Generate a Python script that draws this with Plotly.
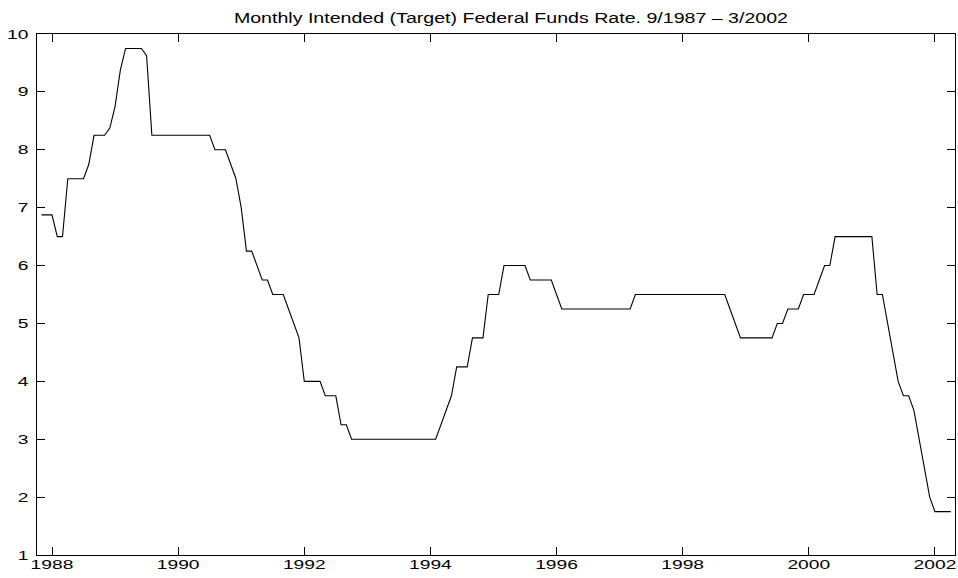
import plotly.graph_objects as go

# Monthly intended (target) federal funds rate
rate = (
    [6.875] * 3 + [6.5] * 2 + [7.5] * 4 + [7.75] + [8.25] * 3 + [8.375, 8.75, 9.375]
    + [9.75] * 4 + [9.625] + [8.25] * 12 + [8.0] * 3 + [7.75, 7.5, 7.0]
    + [6.25] * 2 + [6.0] + [5.75] * 2 + [5.5] * 3 + [5.25, 5.0, 4.75]
    + [4.0] * 4 + [3.75] * 3 + [3.25] * 2 + [3.0] * 17 + [3.25, 3.5, 3.75]
    + [4.25] * 3 + [4.75] * 3 + [5.5] * 3 + [6.0] * 5 + [5.75] * 5 + [5.5]
    + [5.25] * 14 + [5.5] * 18 + [5.25, 5.0] + [4.75] * 7 + [5.0] * 2
    + [5.25] * 3 + [5.5] * 3 + [5.75] + [6.0] * 2 + [6.5] * 8 + [5.5] * 2
    + [5.0, 4.5, 4.0] + [3.75] * 2 + [3.5, 3.0, 2.5, 2.0] + [1.75] * 4
)
x_start = 1987 + 10 / 12          # decimal-year position of the first monthly sample
dates = [x_start + i / 12 for i in range(len(rate))]

x_ticks = [1988, 1990, 1992, 1994, 1996, 1998, 2000, 2002]
y_ticks = [1, 2, 3, 4, 5, 6, 7, 8, 9, 10]
title = "Monthly Intended (Target) Federal Funds Rate. 9/1987 \u2013 3/2002"

fig = go.Figure(go.Scatter(
    x=dates, y=rate, mode="lines",
    line=dict(color="black", width=1.1),
    hoverinfo="x+y",
))

family = "Liberation Sans, Arial, Helvetica, sans-serif"
tick_font = dict(family=family, size=13, color="black")
axis_common = dict(
    showgrid=False, zeroline=False, showline=True, linecolor="black", linewidth=1,
    mirror="ticks", ticks="inside", ticklen=8, tickwidth=1, tickcolor="black",
    tickfont=tick_font,
)
fig.update_layout(
    width=958, height=578,
    margin=dict(l=37, r=3, t=34, b=23),
    paper_bgcolor="white", plot_bgcolor="white",
    showlegend=False,
    font=tick_font,
    title=dict(text=title, xref="container", x=511 / 958, xanchor="center",
               y=1 - 18.5 / 578, yanchor="middle",
               font=dict(family=family, size=14, color="black")),
    xaxis=dict(range=[1987.762, 2002.318], tickvals=x_ticks,
               ticktext=[str(v) for v in x_ticks], ticklabelstandoff=0, **axis_common),
    yaxis=dict(range=[1, 10], tickvals=y_ticks,
               ticktext=[str(v) for v in y_ticks], ticklabelstandoff=5, **axis_common),
)

# The reference's lettering is horizontally stretched; widen the real SVG text to match.
post = """
document.body.style.margin = '0';
var gd = document.getElementById('{plot_id}');
function widen(sel, k, dy) {
  gd.querySelectorAll(sel).forEach(function (t) {
    var b = t.getBBox();
    var a = t.getAttribute('text-anchor') || 'start';
    var cx = a === 'middle' ? b.x + b.width / 2 : (a === 'end' ? b.x + b.width : b.x);
    var prev = t.getAttribute('transform') || '';
    t.setAttribute('transform', prev + ' translate(' + cx + ',' + dy + ') scale(' + k + ',1) translate(' + (-cx) + ',0)');
  });
}
widen('.xtick text', 1.48, -3);
widen('.ytick text', 1.48, 0);
widen('.gtitle', 1.40, 0);
"""

fig.write_html("out.html", post_script=post, config={"displayModeBar": False})
